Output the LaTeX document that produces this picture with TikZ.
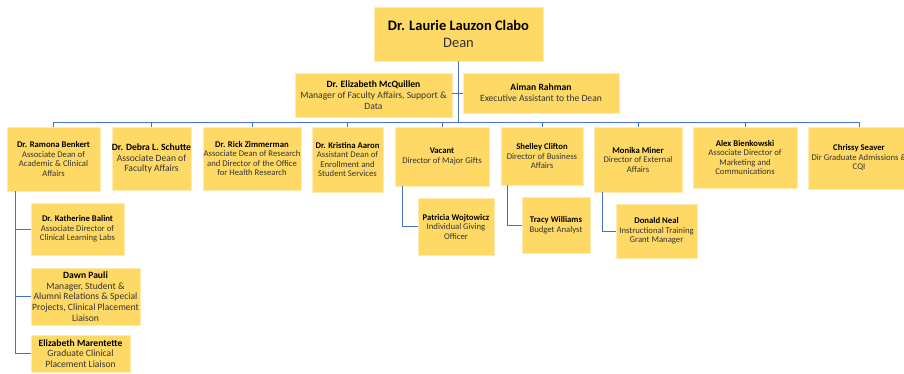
\documentclass[tikz,border=0pt]{standalone}
\usepackage{fontspec}
\setmainfont{Carlito}
\usepackage{xcolor}
\usepackage{tikz}

\definecolor{boxfill}{HTML}{FFD966}
\definecolor{boxedge}{HTML}{FFEBB0}
\definecolor{linkblue}{HTML}{4472C4}
\definecolor{titlegray}{HTML}{333333}

\newcommand{\who}[1]{\textcolor{black}{\textbf{#1}}\\}

\tikzset{
    box/.style={fill=boxfill, draw=boxedge, line width=0.8pt, align=center, inner sep=0pt,
        text=titlegray, font=\fontsize{8.7}{9.5}\selectfont},
    bigbox/.style={box, font=\fontsize{9.6}{10.8}\selectfont},
    link/.style={draw=linkblue, line width=1pt},
    trunk/.style={draw=linkblue, line width=1.6pt}
}

\begin{document}
\begin{tikzpicture}[x=1pt, y=-1pt]

    % Frame
    \useasboundingbox (0, 0) rectangle (904, 373);

    % Dean
    \node[box, minimum width=169pt, minimum height=54pt, font=\fontsize{14.5}{17.5}\selectfont] (dean) at (458.5, 34)
        {\who{Dr. Laurie Lauzon Clabo}Dean};

    % Office of the dean
    \node[bigbox, minimum width=157pt, minimum height=44pt] (mcquillen) at (373.5, 95)
        {\who{Dr. Elizabeth McQuillen}Manager of Faculty Affairs, Support \&\\Data};
    \node[bigbox, minimum width=156pt, minimum height=40pt] (rahman) at (541, 93)
        {\who{Aiman Rahman}Executive Assistant to the Dean};

    % Direct reports
    \node[box, minimum width=93pt, minimum height=64pt] (benkert) at (53.5, 159)
        {\who{Dr. Ramona Benkert}Associate Dean of\\Academic \& Clinical\\Affairs};
    \node[bigbox, minimum width=79pt, minimum height=63pt] (schutte) at (151.5, 158.5)
        {\who{Dr. Debra L. Schutte}Associate Dean of\\Faculty Affairs};
    \node[box, minimum width=98pt, minimum height=63pt] (zimmerman) at (252, 158.5)
        {\who{Dr. Rick Zimmerman}Associate Dean of Research\\and Director of the Office\\for Health Research};
    \node[box, minimum width=71pt, minimum height=65pt] (aaron) at (347.5, 159.5)
        {\who{Dr. Kristina Aaron}Assistant Dean of\\Enrollment and\\Student Services};
    \node[box, minimum width=94pt, minimum height=59pt] (vacant) at (442, 156.5)
        {\who{Vacant}Director of Major Gifts};
    \node[box, minimum width=82pt, minimum height=58pt] (clifton) at (542, 156)
        {\who{Shelley Clifton}Director of Business\\Affairs};
    \node[box, minimum width=88pt, minimum height=65pt] (miner) at (638, 159.5)
        {\who{Monika Miner}Director of External\\Affairs};
    \node[box, minimum width=104pt, minimum height=61pt] (bienkowski) at (745, 157.5)
        {\who{Alex Bienkowski}Associate Director of\\Marketing and\\Communications};
    \node[box, minimum width=102pt, minimum height=62pt] (seaver) at (859, 158)
        {\who{Chrissy Seaver}Dir Graduate Admissions \&\\CQI};

    % Academic and clinical affairs
    \node[box, minimum width=93pt, minimum height=52pt] (balint) at (77.5, 229)
        {\who{Dr. Katherine Balint}Associate Director of\\Clinical Learning Labs};
    \node[bigbox, minimum width=109pt, minimum height=57pt] (pauli) at (85.5, 296.5)
        {\who{Dawn Pauli}Manager, Student \&\\Alumni Relations \& Special\\Projects, Clinical Placement\\Liaison};
    \node[bigbox, minimum width=99pt, minimum height=37pt] (marentette) at (80.5, 353.5)
        {\who{Elizabeth Marentette}Graduate Clinical\\Placement Liaison};

    % Second level
    \node[box, minimum width=76pt, minimum height=57pt] (wojtowicz) at (456, 226.5)
        {\who{Patricia Wojtowicz}Individual Giving\\Officer};
    \node[box, minimum width=68pt, minimum height=56pt] (williams) at (556, 225)
        {\who{Tracy Williams}Budget Analyst};
    \node[box, minimum width=81pt, minimum height=54pt] (neal) at (656.5, 231)
        {\who{Donald Neal}Instructional Training\\Grant Manager};

    % Connectors
    \coordinate (bus) at (458.5, 122);
    \draw[trunk] (dean) -- (bus);
    \draw[link] (mcquillen.east |- rahman.west) -- (rahman.west);
    \foreach \n in {benkert, schutte, zimmerman, aaron, vacant, clifton, miner, bienkowski, seaver}
        \draw[link] (bus) -| (\n.north);
    \foreach \n in {balint, pauli, marentette}
        \draw[link] ([xshift=9pt]benkert.south west) |- (\n.west);
    \draw[link] ([xshift=8pt]vacant.south west) |- (wojtowicz.west);
    \draw[link] ([xshift=7pt]clifton.south west) |- (williams.west);
    \draw[link] ([xshift=9pt]miner.south west) |- (neal.west);

\end{tikzpicture}
\end{document}
